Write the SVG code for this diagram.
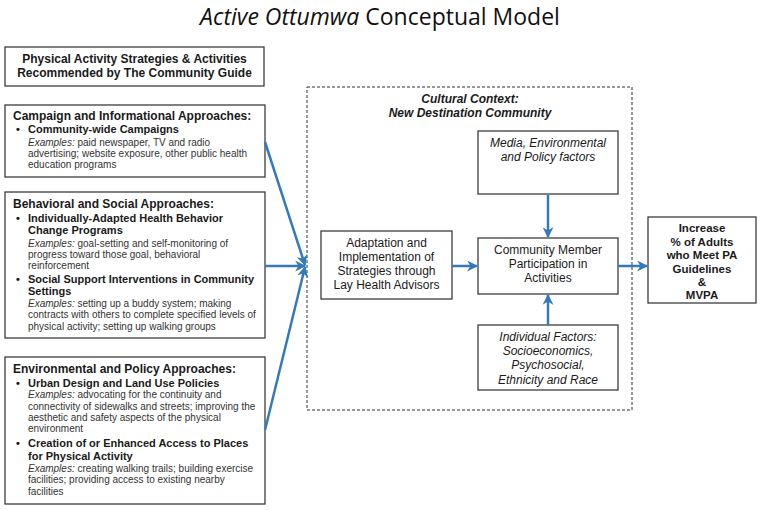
<svg xmlns="http://www.w3.org/2000/svg" width="762" height="510" viewBox="0 0 762 510">
<style>
.box{fill:#fff;stroke:#3c3c3c;stroke-width:1.3}
.t{font-family:"Liberation Sans",Arial,sans-serif;fill:#1a1a1a}
.h{font-size:12px;font-weight:bold}
.b{font-size:11px;font-weight:bold}
.e{font-size:10px;fill:#333}
.c{font-size:12px;text-anchor:middle}
.i{font-style:italic}
.con{stroke:#3579bd;stroke-width:2.5;fill:none;marker-end:url(#ah)}
</style>
<defs>
<marker id="ah" viewBox="0 0 10 10" refX="9" refY="5" markerWidth="4.4" markerHeight="4.4" orient="auto" markerUnits="strokeWidth">
<path d="M0,0 L10,5 L0,10 L3,5 z" fill="#3579bd"/>
</marker>
</defs>
<rect width="762" height="510" fill="#fff"/>
<text x="380" y="25" text-anchor="middle" font-family="'Open Sans','Noto Sans',sans-serif" font-size="23" fill="#111"><tspan font-style="italic">Active Ottumwa</tspan> Conceptual Model</text>

<g id="context">
<rect x="307" y="87" width="325" height="323" fill="none" stroke="#333" stroke-width="1" stroke-dasharray="3,2"/>
<text class="t c" font-weight="bold" font-style="italic"><tspan x="470" y="103">Cultural Context:</tspan><tspan x="470" y="117">New Destination Community</tspan></text>
</g>

<g id="guide">
<rect class="box" x="5" y="47" width="259" height="39"/>
<text class="t h" text-anchor="middle"><tspan x="134.5" y="63">Physical Activity Strategies &amp; Activities</tspan><tspan x="134.5" y="77">Recommended by The Community Guide</tspan></text>
</g>

<g id="campaign">
<rect class="box" x="5" y="105" width="260" height="72"/>
<text class="t h" x="13" y="119.5">Campaign and Informational Approaches:</text>
<text class="t b" x="16" y="133">•</text>
<text class="t b" x="28" y="133">Community-wide Campaigns</text>
<text class="t e"><tspan x="28" y="146"><tspan font-style="italic">Examples:</tspan> paid newspaper, TV and radio</tspan><tspan x="28" y="157">advertising; website exposure, other public health</tspan><tspan x="28" y="168">education programs</tspan></text>
</g>

<g id="behavioral">
<rect class="box" x="5" y="192" width="260" height="146"/>
<text class="t h" x="13" y="208">Behavioral and Social Approaches:</text>
<text class="t b" x="16" y="222">•</text>
<text class="t b"><tspan x="28" y="222">Individually-Adapted Health Behavior</tspan><tspan x="28" y="234">Change Programs</tspan></text>
<text class="t e"><tspan x="28" y="247"><tspan font-style="italic">Examples:</tspan> goal-setting and self-monitoring of</tspan><tspan x="28" y="258">progress toward those goal, behavioral</tspan><tspan x="28" y="269">reinforcement</tspan></text>
<text class="t b" x="16" y="283">•</text>
<text class="t b"><tspan x="28" y="283">Social Support Interventions in Community</tspan><tspan x="28" y="295">Settings</tspan></text>
<text class="t e"><tspan x="28" y="307"><tspan font-style="italic">Examples:</tspan> setting up a buddy system; making</tspan><tspan x="28" y="318">contracts with others to complete specified levels of</tspan><tspan x="28" y="330">physical activity; setting up walking groups</tspan></text>
</g>

<g id="environmental">
<rect class="box" x="5" y="357" width="260" height="147"/>
<text class="t h" x="13" y="373">Environmental and Policy Approaches:</text>
<text class="t b" x="16" y="387">•</text>
<text class="t b" x="28" y="387">Urban Design and Land Use Policies</text>
<text class="t e"><tspan x="28" y="398"><tspan font-style="italic">Examples:</tspan> advocating for the continuity and</tspan><tspan x="28" y="410">connectivity of sidewalks and streets; improving the</tspan><tspan x="28" y="421">aesthetic and safety aspects of the physical</tspan><tspan x="28" y="432">environment</tspan></text>
<text class="t b" x="16" y="447">•</text>
<text class="t b"><tspan x="28" y="447">Creation of or Enhanced Access to Places</tspan><tspan x="28" y="460">for Physical Activity</tspan></text>
<text class="t e"><tspan x="28" y="472"><tspan font-style="italic">Examples:</tspan> creating walking trails; building exercise</tspan><tspan x="28" y="483">facilities; providing access to existing nearby</tspan><tspan x="28" y="495">facilities</tspan></text>
</g>

<g id="adaptation">
<rect class="box" x="321" y="231" width="131" height="68"/>
<text class="t c"><tspan x="386.5" y="247">Adaptation and</tspan><tspan x="386.5" y="261">Implementation of</tspan><tspan x="386.5" y="275">Strategies through</tspan><tspan x="386.5" y="289">Lay Health Advisors</tspan></text>
</g>

<g id="media">
<rect class="box" x="478" y="131" width="140" height="63"/>
<text class="t c i"><tspan x="548" y="147">Media, Environmental</tspan><tspan x="548" y="161">and Policy factors</tspan></text>
</g>

<g id="participation">
<rect class="box" x="478" y="238" width="140" height="56"/>
<text class="t c"><tspan x="548" y="254">Community Member</tspan><tspan x="548" y="268">Participation in</tspan><tspan x="548" y="282">Activities</tspan></text>
</g>

<g id="individual">
<rect class="box" x="478" y="325" width="140" height="65"/>
<text class="t c i"><tspan x="548" y="341">Individual Factors:</tspan><tspan x="548" y="355">Socioeconomics,</tspan><tspan x="548" y="369">Psychosocial,</tspan><tspan x="548" y="384">Ethnicity and Race</tspan></text>
</g>

<g id="outcome">
<rect class="box" x="648" y="217" width="108" height="86"/>
<text class="t" font-weight="bold" font-size="11.5" text-anchor="middle"><tspan x="702" y="232">Increase</tspan><tspan x="702" y="245.5">% of Adults</tspan><tspan x="702" y="259">who Meet PA</tspan><tspan x="702" y="272.5">Guidelines</tspan><tspan x="702" y="285.5">&amp;</tspan><tspan x="702" y="298.5">MVPA</tspan></text>
</g>

<g id="connectors">
<path class="con" d="M265,142 L305,265"/>
<path class="con" d="M265,266 L305,266"/>
<path class="con" d="M265,430 L305,267"/>
<path class="con" d="M452,266 L477,266"/>
<path class="con" d="M548,195 L548,237"/>
<path class="con" d="M548,325 L548,295"/>
<path class="con" d="M618,266 L647,266"/>
</g>
</svg>
